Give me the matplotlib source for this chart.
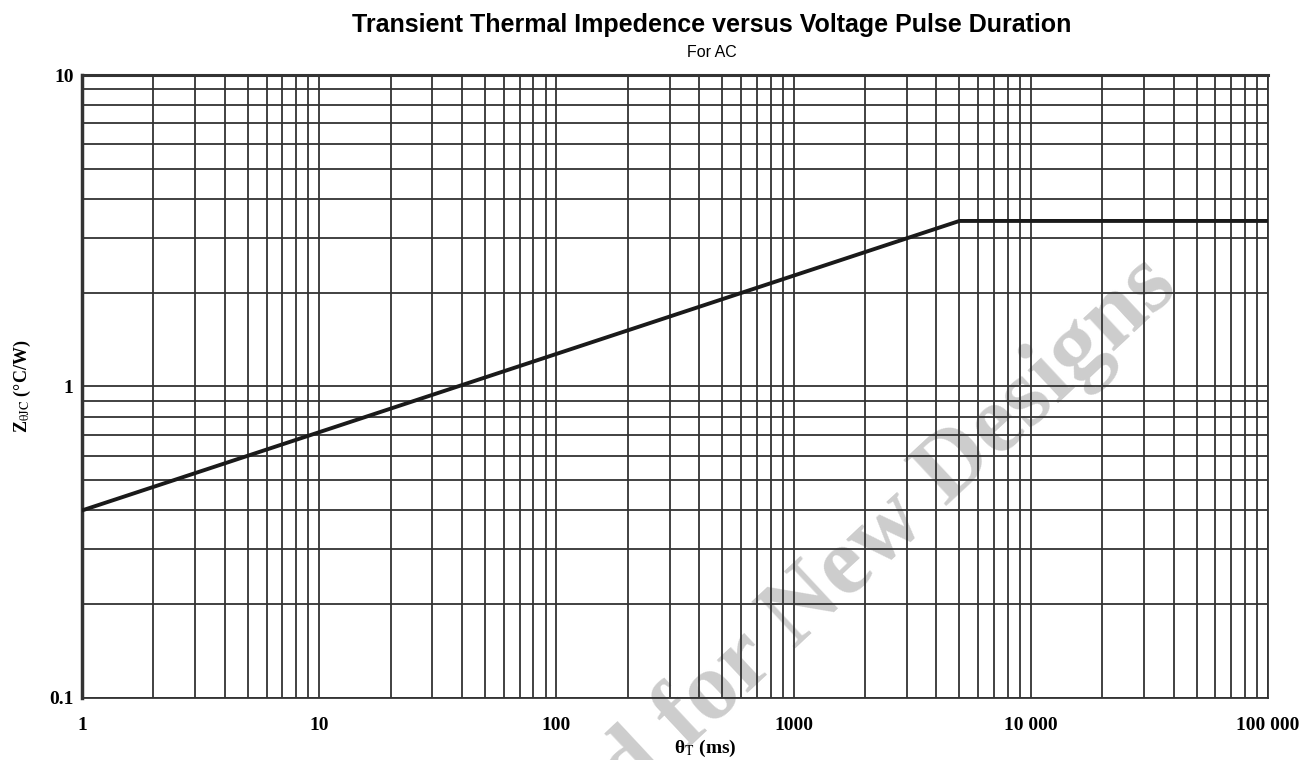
import numpy as np
import matplotlib.pyplot as plt
from matplotlib.ticker import LogLocator, FixedLocator, NullFormatter

plt.rcParams['mathtext.fontset'] = 'stix'

# pulse duration (ms) vs thermal impedance (degC/W)
t_ms = [1, 5000, 100000]
z_jc = [0.4, 3.4, 3.4]

xticks = [1, 10, 100, 1000, 10000, 100000]
xlabels = ['1', '10', '100', '1000', '10 000', '100 000']
yticks = [0.1, 1, 10]
ylabels = ['0.1', '1', '10']

fig = plt.figure(figsize=(13.06, 7.6), dpi=100)
ax = fig.add_axes([0.0628, 0.0816, 0.9081, 0.8197])
ax.set_facecolor('none')

ax.plot(t_ms, z_jc, color='#1a1a1a', lw=2.8, zorder=3)

ax.set_xscale('log')
ax.set_yscale('log')
ax.set_xlim(1, 100000)
ax.set_ylim(0.1, 10)

ax.xaxis.set_major_locator(FixedLocator(xticks))
ax.set_xticklabels(xlabels)
ax.yaxis.set_major_locator(FixedLocator(yticks))
ax.set_yticklabels(ylabels)
ax.xaxis.set_minor_locator(LogLocator(base=10, subs=np.arange(2, 10)))
ax.yaxis.set_minor_locator(LogLocator(base=10, subs=np.arange(2, 10)))
ax.xaxis.set_minor_formatter(NullFormatter())
ax.yaxis.set_minor_formatter(NullFormatter())

ax.grid(True, which='both', color='#333333', lw=1.3)
ax.tick_params(which='both', length=0)
ax.tick_params(axis='x', pad=14)
ax.tick_params(axis='y', pad=6)
for lab in ax.get_xticklabels() + ax.get_yticklabels():
    lab.set_fontfamily('Liberation Serif')
    lab.set_fontweight('bold')
    lab.set_fontsize(14)
for s in ax.spines.values():
    s.set_color('#333333')
    s.set_linewidth(1.3)
ax.spines['left'].set_linewidth(2.5)
ax.spines['top'].set_linewidth(2.2)

fig.text(705 / 1306, 1 - 748 / 760, 'θ$_\\mathrm{T}$ (ms)', ha='center', va='center',
         fontfamily='Liberation Serif', fontweight='bold', fontsize=14)
ax.set_ylabel('Z$_{\\mathrm{\\theta JC}}$ (°C/W)', fontfamily='Liberation Serif',
              fontweight='bold', fontsize=13, labelpad=12)

fig.text(0.545, 0.967, 'Transient Thermal Impedence versus Voltage Pulse Duration',
         ha='center', va='center', fontfamily='Liberation Sans', fontweight='bold', fontsize=18)
fig.text(0.545, 0.931, 'For AC', ha='center', va='center',
         fontfamily='Liberation Sans', fontsize=11.5)

# watermark
fig.text(1180 / 1306, 1 - 290 / 760, 'Not Recommended for New Designs',
         ha='right', va='baseline', rotation=43, rotation_mode='anchor',
         fontfamily='Liberation Serif', fontweight='bold', fontsize=70,
         color='#cdcdcd', zorder=-1)

fig.savefig('out.png', dpi=100)
